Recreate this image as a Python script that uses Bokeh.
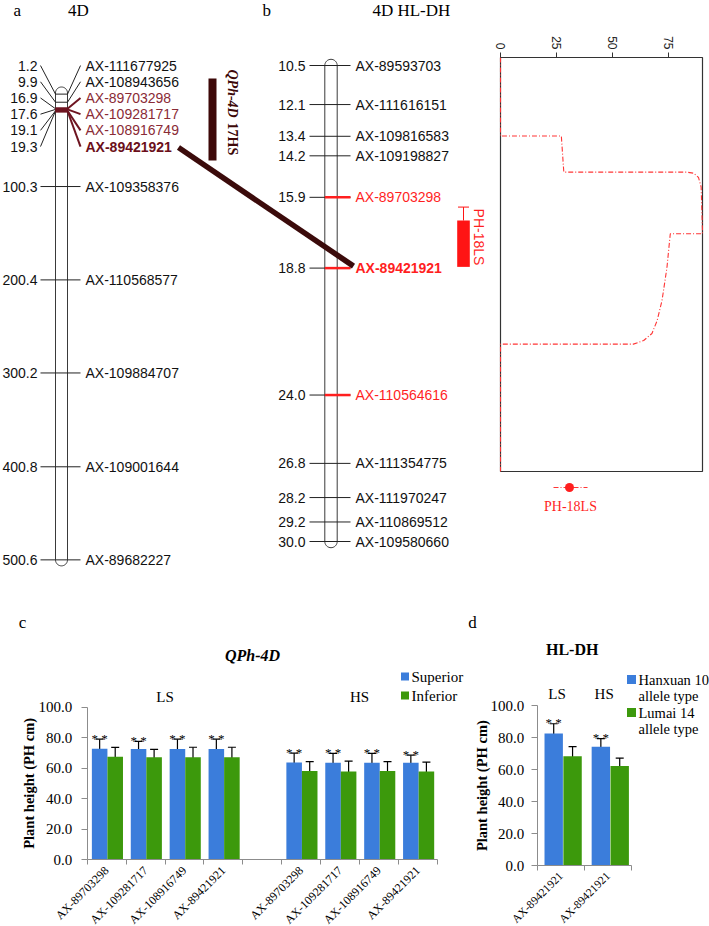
import math
from bokeh.plotting import figure
from bokeh.models import (Range1d, LinearAxis, FixedTicker, NumeralTickFormatter,
                          ColumnDataSource, Whisker, TeeHead)
from bokeh.layouts import row, column
from bokeh.embed import file_html
from bokeh.resources import INLINE
from bokeh.core.properties import value

SANS = "Liberation Sans"
SERIF = "Liberation Serif"

# ---------------- data ----------------
# (a) chromosome 4D consensus map (cM)
a_pos = [1.2, 9.9, 16.9, 17.6, 19.1, 19.3, 100.3, 200.4, 300.2, 400.8, 500.6]
a_mrk = ["AX-111677925", "AX-108943656", "AX-89703298", "AX-109281717", "AX-108916749",
         "AX-89421921", "AX-109358376", "AX-110568577", "AX-109884707", "AX-109001644",
         "AX-89682227"]
a_hl = [0, 0, 1, 1, 1, 2, 0, 0, 0, 0, 0]
a_qtl_name = "QPh-4D"
a_qtl_env = "17HS"

# (b) chromosome 4D HL-DH map (cM)
b_pos = [10.5, 12.1, 13.4, 14.2, 15.9, 18.8, 24.0, 26.8, 28.2, 29.2, 30.0]
b_mrk = ["AX-89593703", "AX-111616151", "AX-109816583", "AX-109198827", "AX-89703298",
         "AX-89421921", "AX-110564616", "AX-111354775", "AX-111970247", "AX-110869512",
         "AX-109580660"]
b_hl = [0, 0, 0, 0, 1, 2, 1, 0, 0, 0, 0]
qtl_name = "PH-18LS"
qtl_outer = [16.3, 18.75]
qtl_inner = [16.85, 18.75]

# LOD profile along the HL-DH map
lod_pos = [10.5, 14.2, 14.2, 15.9, 15.9, 15.95, 16.15, 16.6, 18.8, 18.8, 20.4, 21.95,
           22.9, 23.5, 23.83, 24.0, 24.0, 30.0]
lod_val = [0, 0, 27.2, 28.3, 83.3, 86.3, 88.5, 89.7, 90.3, 75.9, 74.4, 72.2,
           70.0, 67.7, 64.0, 59.4, 0, 0]
lod_ticks = [0, 25, 50, 75]
lod_max = 90.3

# (c) QPh-4D plant height by allele class
c_title = "QPh-4D"
c_markers = ["AX-89703298", "AX-109281717", "AX-108916749", "AX-89421921"]
ls_sup = [72.8, 72.5, 72.5, 72.5]
ls_sup_err = [6.2, 5.0, 6.5, 6.5]
ls_inf = [67.4, 67.1, 67.1, 67.1]
ls_inf_err = [6.2, 5.2, 6.6, 6.6]
hs_sup = [63.7, 63.6, 63.6, 63.5]
hs_sup_err = [6.1, 6.1, 6.1, 5.0]
hs_inf = [58.1, 57.8, 58.1, 57.8]
hs_inf_err = [6.2, 6.8, 6.2, 6.2]
c_sig = ["**", "**", "**", "**"]

# (d) HL-DH
d_title = "HL-DH"
d_groups = ["LS", "HS"]
d_markers = ["AX-89421921", "AX-89421921"]
d_h10 = [82.5, 74.3]
d_h10_err = [6.1, 5.0]
d_lm14 = [68.3, 62.2]
d_lm14_err = [6.0, 5.0]
d_sig = ["**", "**"]

y_ticks = [0, 20, 40, 60, 80, 100]
BLUE = "#3b7ddb"
GREEN = "#3c990c"

# ---------------- layout constants (page pixels) ----------------
W_MAP, W_LOD, H_TOP = 490, 219, 600
W_C, W_D, H_BOT = 465, 244, 326
PX0, PY0 = 0, 0
PYB = PY0 + H_TOP


def mk(w, h, xr, yr):
    p = figure(width=w, height=h, x_range=xr, y_range=yr, output_backend="svg",
               toolbar_location=None, tools="", x_axis_location=None, y_axis_location=None,
               min_border=0, min_border_left=0, min_border_right=0, min_border_top=0,
               min_border_bottom=0, outline_line_color=None)
    p.background_fill_color = "white"
    p.border_fill_color = "white"
    for g in list(p.grid):
        g.visible = False
    return p


def txt(p, x, y, s, size, font=SANS, color="black", style="normal", align="left",
        baseline="middle", angle=0.0, yr="default"):
    p.text(x=list(x), y=list(y), text=list(s), text_font=value(font),
           text_font_size=value(f"{size}px"), text_color=color, text_font_style=style,
           text_align=align, text_baseline=baseline, angle=angle, y_range_name=yr)


def outline(xl, xr, top, bot, ry, n=20):
    cx = (xl + xr) / 2
    r = (xr - xl) / 2
    xs, ys = [], []
    for k in range(n + 1):
        t = math.pi * (1 - k / n)
        xs.append(cx + r * math.cos(t))
        ys.append(top - ry * math.sin(t))
    for k in range(n + 1):
        t = math.pi * k / n
        xs.append(cx + r * math.cos(t))
        ys.append(bot + ry * math.sin(t))
    xs.append(xs[0])
    ys.append(ys[0])
    return xs, ys


def spread(pos, gap):
    groups = [[0]]
    for i in range(1, len(pos)):
        if pos[i] - pos[i - 1] < gap:
            groups[-1].append(i)
        else:
            groups.append([i])
    lab = [0.0] * len(pos)
    for g in groups:
        m = sum(pos[i] for i in g) / len(g)
        for k, i in enumerate(g):
            lab[i] = m + (k - (len(g) - 1) / 2) * gap
    return lab


# ================= maps (a) and (b) =================
A_PX0, A_S = 92.5, 0.9326           # page y of 0 cM, px per cM
B_PX0, B_S = 65.0, (541.0 - 65.0) / (b_pos[-1] - b_pos[0])


def a_cm(py):
    return (py - A_PX0) / A_S


def a_py(cm):
    return A_PX0 + cm * A_S


def b_cm(py):
    return b_pos[0] + (py - B_PX0) / B_S


def b_py(cm):
    return B_PX0 + (cm - b_pos[0]) * B_S


pm = mk(W_MAP, H_TOP, Range1d(PX0, PX0 + W_MAP), Range1d(a_cm(PYB), a_cm(PY0)))
pm.extra_y_ranges = {"b": Range1d(b_cm(PYB), b_cm(PY0)), "px": Range1d(PYB, PY0)}

# --- panel a
n = len(a_pos)
a_lab = spread(a_pos, 16.2 / A_S)
AXL, AXR = 55, 67
xs, ys = outline(AXL, AXR, 0.0, a_pos[-1], 6.0 / A_S)
pm.line(xs, ys, line_color="#3a3a3a", line_width=1)
pm.segment(x0=[40] * n, y0=a_lab, x1=[AXL] * n, y1=a_pos, line_color="#222", line_width=1)
blk = [i for i in range(n) if a_hl[i] == 0]
red = [i for i in range(n) if a_hl[i] > 0]
pm.segment(x0=[AXL] * len(blk), y0=[a_pos[i] for i in blk], x1=[AXR] * len(blk),
           y1=[a_pos[i] for i in blk], line_color="#222", line_width=1)
pm.segment(x0=[AXR] * len(blk), y0=[a_pos[i] for i in blk], x1=[80] * len(blk),
           y1=[a_lab[i] for i in blk], line_color="#222", line_width=1)
pm.segment(x0=[AXL] * len(red), y0=[a_pos[i] for i in red], x1=[AXR] * len(red),
           y1=[a_pos[i] for i in red], line_color="#6e1420", line_width=3)
pm.segment(x0=[AXR] * len(red), y0=[a_pos[i] for i in red], x1=[80] * len(red),
           y1=[a_lab[i] for i in red], line_color="#6e1420", line_width=2)
txt(pm, [37] * n, a_lab, [f"{v:.1f}" for v in a_pos], 14, align="right", color="#111")
for lvl, col, sty in [(0, "#111111", "normal"), (1, "#8a2b36", "normal"), (2, "#6b0f1a", "bold")]:
    idx = [i for i in range(n) if a_hl[i] == lvl]
    txt(pm, [85] * len(idx), [a_lab[i] for i in idx], [a_mrk[i] for i in idx], 14,
        color=col, style=sty)

# QTL bar of panel a
pm.quad(left=[208], right=[216], top=[78], bottom=[160], fill_color="#3d0808",
        line_color=None, y_range_name="px")
txt(pm, [232], [69], [a_qtl_name], 14, font=SERIF, color="#3d0808", style="bold italic",
    angle=-math.pi / 2, yr="px")
txt(pm, [232], [122], [a_qtl_env], 14, font=SERIF, color="#3d0808", style="bold",
    angle=-math.pi / 2, yr="px")

# --- panel b
m = len(b_pos)
BXL, BXR = 324.3, 336.7
xs, ys = outline(BXL, BXR, b_pos[0], b_pos[-1], 6.2 / B_S)
pm.line(xs, ys, line_color="#3a3a3a", line_width=1, y_range_name="b")
pm.segment(x0=[309] * m, y0=b_pos, x1=[350] * m, y1=b_pos, line_color="#222",
           line_width=1, y_range_name="b")
bred = [i for i in range(m) if b_hl[i] > 0]
pm.segment(x0=[BXL] * len(bred), y0=[b_pos[i] for i in bred], x1=[350] * len(bred),
           y1=[b_pos[i] for i in bred], line_color="#ff1f1f", line_width=2.5, y_range_name="b")
txt(pm, [305] * m, b_pos, [f"{v:.1f}" for v in b_pos], 14, align="right", color="#111", yr="b")
for lvl, col, sty in [(0, "#111111", "normal"), (1, "#ff1f1f", "normal"), (2, "#ff1f1f", "bold")]:
    idx = [i for i in range(m) if b_hl[i] == lvl]
    txt(pm, [355] * len(idx), [b_pos[i] for i in idx], [b_mrk[i] for i in idx], 14,
        color=col, style=sty, yr="b")

# QTL interval on map b
pm.quad(left=[456.7], right=[469.3], top=[qtl_inner[0]], bottom=[qtl_inner[1]],
        fill_color="#ff1414", line_color=None, y_range_name="b")
pm.segment(x0=[463, 457.5], y0=[qtl_outer[0], qtl_outer[0]], x1=[463, 468.5],
           y1=[qtl_inner[0], qtl_outer[0]], line_color="#ff1414", line_width=1, y_range_name="b")
txt(pm, [478], [(qtl_outer[0] + qtl_inner[1]) / 2], [qtl_name], 14, color="#ff1f1f",
    align="center", angle=-math.pi / 2, yr="b")

# connection a -> b
pm.line([178, 353], [a_py(a_lab[5]) + 1, b_py(b_pos[5]) - 2], line_color="#3b0b0b",
        line_width=5.5, y_range_name="px")

# panel titles
txt(pm, [13], [10], ["a"], 17, font=SERIF, align="left", yr="px")
txt(pm, [78], [10], ["4D"], 17, font=SERIF, align="center", yr="px")
txt(pm, [262], [10], ["b"], 17, font=SERIF, align="left", yr="px")
txt(pm, [413], [10], ["4D  HL-DH"], 17, font=SERIF, align="center", yr="px")

# ================= LOD profile =================
L_X0 = 500.0          # page x of LOD 0
L_XS = (702.0 - L_X0) / lod_max
L_Y0 = 57.0
L_YS = (471.0 - L_Y0) / (b_pos[-1] - b_pos[0])


def lx(px):
    return (px - L_X0) / L_XS


def ly(py):
    return b_pos[0] + (py - L_Y0) / L_YS


pl = mk(W_LOD, H_TOP, Range1d(lx(PX0 + W_MAP), lx(PX0 + W_MAP + W_LOD)), Range1d(ly(PYB), ly(PY0)))
pl.quad(left=[0], right=[lod_max], top=[b_pos[0]], bottom=[b_pos[-1]], fill_color=None,
        line_color="#333", line_width=1.2)
pl.line(lod_val, lod_pos, line_color="#ff3535", line_width=1.1, line_dash="5 2 1 2")
lax = LinearAxis(fixed_location=b_pos[0], ticker=FixedTicker(ticks=lod_ticks),
                 major_label_orientation=-math.pi / 2, axis_line_color=None,
                 major_tick_in=0, major_tick_out=5, major_tick_line_color="#333",
                 minor_tick_line_color=None, major_label_text_font=SANS,
                 major_label_text_font_size="12px", major_label_text_color="#222",
                 major_label_standoff=3)
pl.add_layout(lax, "above")
# legend
pl.line([lx(553), lx(587)], [ly(487), ly(487)], line_color="#ff3535", line_width=1.1,
        line_dash="5 2 1 2")
pl.scatter([lx(569)], [ly(487)], size=9, fill_color="#ff1f1f", line_color=None)
txt(pl, [lx(570)], [ly(506)], [qtl_name], 14, font=SERIF, color="#ff1f1f", align="center")

# ================= panel c =================
C_X0, C_SW = 86.7, 38.9
C_Y0, C_YS = 859.0, 1.523


def cx(px):
    return (px - C_X0) / C_SW


def cy(py):
    return (C_Y0 - py) / C_YS


pc = mk(W_C, H_BOT, Range1d(cx(PX0), cx(PX0 + W_C)), Range1d(cy(PYB + H_BOT), cy(PYB)))
nm = len(c_markers)
slots_ls = list(range(nm))
slots_hs = [nm + 1 + i for i in range(nm)]
nslots = 2 * nm + 1
sup_x = [s + 0.32 for s in slots_ls + slots_hs]
inf_x = [s + 0.72 for s in slots_ls + slots_hs]
sup_v = ls_sup + hs_sup
sup_e = ls_sup_err + hs_sup_err
inf_v = ls_inf + hs_inf
inf_e = ls_inf_err + hs_inf_err
r_sup = pc.vbar(x=sup_x, top=sup_v, bottom=0, width=0.4, fill_color=BLUE, line_color=None)
r_inf = pc.vbar(x=inf_x, top=inf_v, bottom=0, width=0.4, fill_color=GREEN, line_color=None)
for xs_, v_, e_ in [(sup_x, sup_v, sup_e), (inf_x, inf_v, inf_e)]:
    src = ColumnDataSource(dict(x=xs_, lo=[a - b for a, b in zip(v_, e_)],
                                hi=[a + b for a, b in zip(v_, e_)]))
    pc.add_layout(Whisker(source=src, base="x", lower="lo", upper="hi", line_color="black",
                          line_width=1.2,
                          upper_head=TeeHead(size=8, line_color="black", line_width=1.2),
                          lower_head=TeeHead(size=8, line_color="black", line_width=1.2)))
txt(pc, sup_x, [a + b + 1 / C_YS for a, b in zip(sup_v, sup_e)],
    [s.replace("**", "* *") for s in c_sig + c_sig], 13, font=SERIF, align="center",
    baseline="alphabetic")

centers = [s + 0.5 for s in slots_ls + slots_hs]
cax = LinearAxis(fixed_location=0, bounds=(0, nslots),
                 ticker=FixedTicker(ticks=centers, minor_ticks=list(range(nslots + 1))),
                 major_label_overrides={c: mk_ for c, mk_ in zip(centers, c_markers + c_markers)},
                 major_label_orientation=math.pi / 4, major_tick_line_color=None,
                 major_tick_in=0, major_tick_out=0, minor_tick_in=0, minor_tick_out=5,
                 minor_tick_line_color="#8c8c8c", axis_line_color="#8c8c8c",
                 major_label_text_font=SERIF, major_label_text_font_size="12px",
                 major_label_text_color="black", major_label_standoff=4)
pc.add_layout(cax, "below")
cyax = LinearAxis(fixed_location=0, bounds=(0, 100), ticker=FixedTicker(ticks=y_ticks),
                  formatter=NumeralTickFormatter(format="0.0"), major_tick_in=0,
                  major_tick_out=6, major_tick_line_color="#8c8c8c", axis_line_color="#8c8c8c",
                  minor_tick_line_color=None, major_label_text_font=SERIF,
                  major_label_text_font_size="15px", major_label_text_color="black",
                  major_label_standoff=9)
pc.add_layout(cyax, "left")
txt(pc, [cx(28)], [50], ["Plant height (PH cm)"], 14.5, font=SERIF, style="bold",
    align="center", angle=math.pi / 2)
txt(pc, [cx(252)], [cy(655)], [c_title], 16, font=SERIF, style="bold italic", align="center")
txt(pc, [(slots_ls[0] + slots_ls[-1] + 1) / 2, (slots_hs[0] + slots_hs[-1] + 1) / 2],
    [cy(696)] * 2, ["LS", "HS"], 15, font=SERIF, align="center")
txt(pc, [cx(22)], [cy(622)], ["c"], 17, font=SERIF, align="center")
pc.scatter([cx(404.5)] * 2, [cy(676), cy(695)], marker="square", size=8,
           fill_color=[BLUE, GREEN], line_color=None)
txt(pc, [cx(411)] * 2, [cy(676), cy(695)], ["Superior", "Inferior"], 15, font=SERIF)

# ================= panel d =================
D_X0, D_SW = 536.7, 47.15
D_Y0, D_YS = 865.3, 1.603


def dx(px):
    return (px - D_X0) / D_SW


def dy(py):
    return (D_Y0 - py) / D_YS


X_D = PX0 + W_C
pdd = mk(W_D, H_BOT, Range1d(dx(X_D), dx(X_D + W_D)), Range1d(dy(PYB + H_BOT), dy(PYB)))
ng = len(d_groups)
dsup_x = [i + 0.35 for i in range(ng)]
dinf_x = [i + 0.75 for i in range(ng)]
pdd.vbar(x=dsup_x, top=d_h10, bottom=0, width=0.39, fill_color=BLUE, line_color=None)
pdd.vbar(x=dinf_x, top=d_lm14, bottom=0, width=0.39, fill_color=GREEN, line_color=None)
for xs_, v_, e_ in [(dsup_x, d_h10, d_h10_err), (dinf_x, d_lm14, d_lm14_err)]:
    src = ColumnDataSource(dict(x=xs_, lo=[a - b for a, b in zip(v_, e_)],
                                hi=[a + b for a, b in zip(v_, e_)]))
    pdd.add_layout(Whisker(source=src, base="x", lower="lo", upper="hi", line_color="black",
                           line_width=1.2,
                           upper_head=TeeHead(size=8, line_color="black", line_width=1.2),
                           lower_head=TeeHead(size=8, line_color="black", line_width=1.2)))
txt(pdd, dsup_x, [a + b + 1 / D_YS for a, b in zip(d_h10, d_h10_err)],
    [s.replace("**", "* *") for s in d_sig], 13, font=SERIF, align="center",
    baseline="alphabetic")
dcent = [i + 0.5 for i in range(ng)]
dax = LinearAxis(fixed_location=0, bounds=(0, ng),
                 ticker=FixedTicker(ticks=dcent, minor_ticks=list(range(ng + 1))),
                 major_label_overrides={c: mk_ for c, mk_ in zip(dcent, d_markers)},
                 major_label_orientation=math.pi / 4, major_tick_line_color=None,
                 major_tick_in=0, major_tick_out=0, minor_tick_in=0, minor_tick_out=5,
                 minor_tick_line_color="#8c8c8c", axis_line_color="#8c8c8c",
                 major_label_text_font=SERIF, major_label_text_font_size="11.5px",
                 major_label_text_color="black", major_label_standoff=3)
pdd.add_layout(dax, "below")
dyax = LinearAxis(fixed_location=0, bounds=(0, 100), ticker=FixedTicker(ticks=y_ticks),
                  formatter=NumeralTickFormatter(format="0.0"), major_tick_in=0,
                  major_tick_out=6, major_tick_line_color="#8c8c8c", axis_line_color="#8c8c8c",
                  minor_tick_line_color=None, major_label_text_font=SERIF,
                  major_label_text_font_size="15px", major_label_text_color="black",
                  major_label_standoff=7)
pdd.add_layout(dyax, "left")
txt(pdd, [dx(481)], [50], ["Plant height (PH cm)"], 14.5, font=SERIF, style="bold",
    align="center", angle=math.pi / 2)
txt(pdd, [dx(571.7)], [dy(649)], [d_title], 16, font=SERIF, style="bold", align="center")
txt(pdd, [i + 0.42 for i in range(ng)], [dy(693)] * ng, d_groups, 15, font=SERIF, align="center")
txt(pdd, [dx(472)], [dy(622)], ["d"], 17, font=SERIF, align="center")
pdd.scatter([dx(631)] * 2, [dy(679), dy(712)], marker="square", size=9,
            fill_color=[BLUE, GREEN], line_color=None)
txt(pdd, [dx(638)] * 4, [dy(679), dy(695), dy(712), dy(728)],
    ["Hanxuan 10", "allele type", "Lumai 14", "allele type"], 14.5, font=SERIF)

layout = column(row(pm, pl), row(pc, pdd))
open("out.html", "w").write(file_html(layout, INLINE))
